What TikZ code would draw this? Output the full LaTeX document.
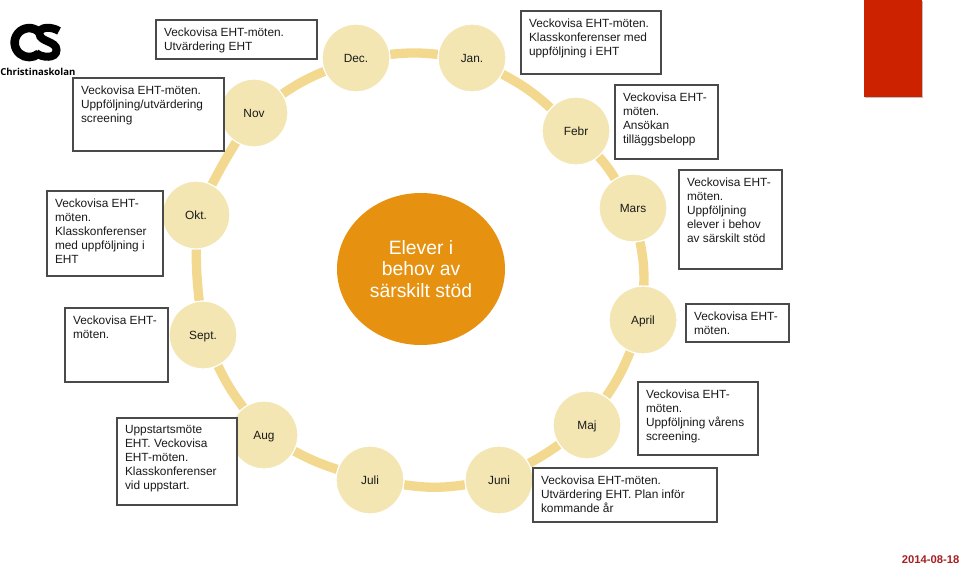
\documentclass[tikz,border=0pt]{standalone}
\usepackage{fontspec}
\setmainfont{Liberation Sans}
\newfontfamily\logofont{Open Sans}
\usetikzlibrary{backgrounds,shapes.geometric}
\definecolor{ringc}{HTML}{F2D98F}
\definecolor{discc}{HTML}{F3E6B3}
\definecolor{corec}{HTML}{E6910F}
\definecolor{redc}{HTML}{CC2200}
\definecolor{datec}{HTML}{A61E22}
\definecolor{framec}{HTML}{4A4A4A}
\definecolor{textc}{HTML}{1A1A1A}
\tikzset{
  x=0.75pt,y=-0.75pt,
  month/.style={circle,fill=discc,draw=white,line width=0.8pt,minimum size=50.8pt,inner sep=0pt,text=textc,text height=6.4pt,text depth=0pt,font=\fontsize{8.9}{11}\selectfont},
  core/.style={ellipse,fill=corec,text=white,align=center,inner sep=0pt,minimum width=126pt,minimum height=114pt,font=\fontsize{14.5}{16.3}\selectfont},
  ringlink/.style={draw=ringc,line width=7pt},
  notebox/.style={draw=framec,line width=0.8pt,fill=white,anchor=north west,inner xsep=6pt,inner ysep=5.6pt,outer sep=0pt,text=textc,font=\fontsize{8.9}{10.5}\selectfont},
  logostroke/.style={draw=black,line cap=butt},
}
\newcommand{\notebox}[6]{%
  \pgfmathsetlengthmacro{\bw}{(#4-#2)*0.75-12}%
  \pgfmathsetlengthmacro{\bh}{(#5-#3)*0.75-11.2}%
  \node[notebox] (#1) at (#2,#3) {\parbox[c][\bh][t]{\bw}{\raggedright #6}};%
}
\begin{document}
\begin{tikzpicture}
\useasboundingbox (0,0) rectangle (960,567);
% logo
\draw[logostroke,line width=6.4pt] (38.5,31.5) arc[start angle=-50,end angle=-310,radius=14.5];
\draw[logostroke,line width=6pt] (59,31) .. controls (52,26.5) and (39,26) .. (39.5,34) .. controls (40,42) and (56.5,41) .. (56.5,50) .. controls (56.5,59) and (42,58) .. (36,53);
\node[anchor=west,inner sep=0pt,font=\logofont\bfseries\fontsize{7.2}{9}\selectfont] (logotext) at (0,72) {Christinaskolan};
% red tab
\fill[black!25] (865,1) rectangle (923,98.5);
\fill[redc] (864,0) rectangle (922,97);
% date
\node[anchor=east,inner sep=0pt,text=datec,font=\bfseries\fontsize{8.4}{10}\selectfont] (date) at (959.5,560) {2014-08-18};
% months
\node[month] (dec) at (356,58) {Dec.};
\node[month] (jan) at (472,58) {Jan.};
\node[month] (feb) at (576,131) {Febr};
\node[month] (mar) at (633,208) {Mars};
\node[month] (apr) at (643,320) {April};
\node[month] (maj) at (587,425) {Maj};
\node[month] (jun) at (499,480) {Juni};
\node[month] (jul) at (370,480) {Juli};
\node[month] (aug) at (264,435) {Aug};
\node[month] (sep) at (203,335) {Sept.};
\node[month] (okt) at (196,215) {Okt.};
\node[month] (nov) at (254,113) {Nov};
\node[core] (centre) at (421,269) {Elever i\\behov av\\särskilt stöd};
\begin{scope}[on background layer]
\draw[ringlink] (dec) to[bend left=6] (jan);
\draw[ringlink] (jan) to[bend left=7] (feb);
\draw[ringlink] (feb) to[bend left=5] (mar);
\draw[ringlink] (mar) to[bend left=6.5] (apr);
\draw[ringlink] (apr) to[bend left=6] (maj);
\draw[ringlink] (maj) to[bend left=3] (jun);
\draw[ringlink] (jun) to[bend left=8] (jul);
\draw[ringlink] (jul) to[bend left=5] (aug);
\draw[ringlink] (aug) to[bend left=5.5] (sep);
\draw[ringlink] (sep) to[bend left=3] (okt);
\draw[ringlink] (okt) to[bend left=2] (nov);
\draw[ringlink] (nov) to[bend left=5.5] (dec);
\end{scope}
% notes
\notebox{ndec}{156}{20}{317}{59}{Veckovisa EHT-möten.\\Utvärdering EHT}
\notebox{nnov}{73}{78}{224}{151}{Veckovisa EHT-möten.\\Uppföljning/utvärdering\\screening}
\notebox{nokt}{47}{191}{163}{276}{Veckovisa EHT-\\möten.\\Klasskonferenser\\med uppföljning i\\EHT}
\notebox{nsep}{65}{308}{168}{382}{Veckovisa EHT-\\möten.}
\notebox{naug}{117}{418}{237}{505}{Uppstartsmöte\\EHT. Veckovisa\\EHT-möten.\\Klasskonferenser\\vid uppstart.}
\notebox{njan}{521}{11}{661}{74}{Veckovisa EHT-möten.\\Klasskonferenser med\\uppföljning i EHT}
\notebox{nfeb}{615}{85}{718}{159}{Veckovisa EHT-\\möten.\\Ansökan\\tilläggsbelopp}
\notebox{nmar}{679}{170}{782}{269}{Veckovisa EHT-\\möten.\\Uppföljning\\elever i behov\\av särskilt stöd}
\notebox{napr}{686}{304}{789}{342}{Veckovisa EHT-\\möten.}
\notebox{nmaj}{638}{382}{758}{455}{Veckovisa EHT-\\möten.\\Uppföljning vårens\\screening.}
\notebox{njun}{533}{468}{717}{522}{Veckovisa EHT-möten.\\Utvärdering EHT. Plan inför\\kommande år}
\end{tikzpicture}
\end{document}
